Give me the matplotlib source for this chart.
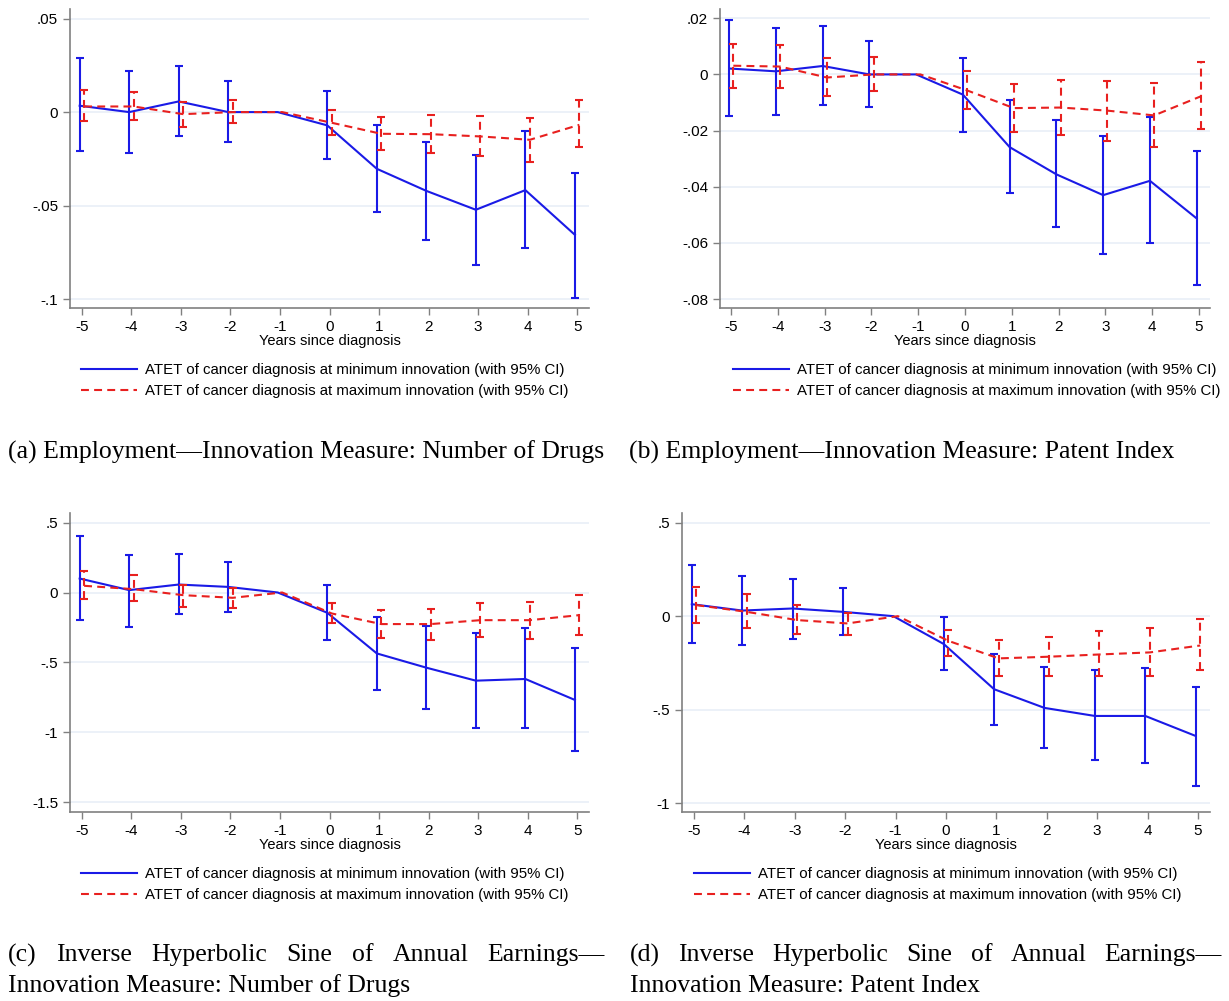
import numpy as np
import matplotlib
matplotlib.use('Agg')
import matplotlib.pyplot as plt
from matplotlib.lines import Line2D

nan = np.nan
years = [-5, -4, -3, -2, -1, 0, 1, 2, 3, 4, 5]

# (a) employment, number of drugs
a_min = [0.0034, 0.0, 0.0057, 0.0, 0.0, -0.0071, -0.0303, -0.0421, -0.0522, -0.0417, -0.0656]
a_min_hi = [0.0287, 0.0217, 0.0248, 0.0164, nan, 0.0114, -0.0070, -0.0159, -0.0228, -0.0100, -0.0328]
a_min_lo = [-0.0210, -0.0221, -0.0130, -0.0159, nan, -0.0248, -0.0533, -0.0683, -0.0816, -0.0725, -0.0991]
a_max = [0.0030, 0.0030, -0.0011, 0.0, 0.0, -0.0057, -0.0116, -0.0118, -0.0130, -0.0148, -0.0068]
a_max_hi = [0.0116, 0.0109, 0.0055, 0.0064, nan, 0.0012, -0.0027, -0.0014, -0.0020, -0.0029, 0.0064]
a_max_lo = [-0.0050, -0.0043, -0.0078, -0.0057, nan, -0.0125, -0.0203, -0.0216, -0.0232, -0.0267, -0.0189]

# (b) employment, patent index
b_min = [0.0021, 0.0011, 0.0030, 0.0, 0.0, -0.0072, -0.0259, -0.0356, -0.0430, -0.0379, -0.0513]
b_min_hi = [0.0195, 0.0165, 0.0171, 0.0118, nan, 0.0057, -0.0091, -0.0164, -0.0220, -0.0153, -0.0274]
b_min_lo = [-0.0147, -0.0145, -0.0109, -0.0116, nan, -0.0204, -0.0424, -0.0544, -0.0639, -0.0601, -0.0751]
b_max = [0.0031, 0.0028, -0.0011, 0.0, 0.0, -0.0057, -0.0120, -0.0118, -0.0129, -0.0146, -0.0078]
b_max_hi = [0.0110, 0.0103, 0.0057, 0.0061, nan, 0.0012, -0.0033, -0.0021, -0.0025, -0.0030, 0.0046]
b_max_lo = [-0.0047, -0.0047, -0.0078, -0.0059, nan, -0.0122, -0.0205, -0.0216, -0.0236, -0.0258, -0.0195]

# (c) asinh earnings, number of drugs
c_min = [0.100, 0.017, 0.057, 0.040, 0.0, -0.145, -0.436, -0.538, -0.631, -0.619, -0.769]
c_min_hi = [0.405, 0.269, 0.274, 0.219, nan, 0.055, -0.176, -0.238, -0.293, -0.257, -0.398]
c_min_lo = [-0.195, -0.248, -0.155, -0.140, nan, -0.340, -0.698, -0.831, -0.971, -0.971, -1.136]
c_max = [0.048, 0.024, -0.019, -0.038, 0.0, -0.150, -0.226, -0.226, -0.198, -0.198, -0.162]
c_max_hi = [0.152, 0.126, 0.057, 0.029, nan, -0.076, -0.126, -0.117, -0.076, -0.067, -0.017]
c_max_lo = [-0.045, -0.062, -0.105, -0.110, nan, -0.221, -0.324, -0.340, -0.321, -0.336, -0.302]

# (d) asinh earnings, patent index
d_min = [0.064, 0.030, 0.041, 0.023, 0.0, -0.149, -0.391, -0.491, -0.534, -0.534, -0.641]
d_min_hi = [0.274, 0.215, 0.199, 0.153, nan, -0.004, -0.203, -0.274, -0.286, -0.279, -0.379]
d_min_lo = [-0.141, -0.153, -0.121, -0.101, nan, -0.290, -0.580, -0.703, -0.769, -0.788, -0.907]
d_max = [0.059, 0.023, -0.021, -0.039, 0.0, -0.132, -0.226, -0.217, -0.205, -0.194, -0.157]
d_max_hi = [0.157, 0.117, 0.059, 0.018, nan, -0.073, -0.128, -0.110, -0.082, -0.062, -0.014]
d_max_lo = [-0.036, -0.062, -0.098, -0.103, nan, -0.212, -0.320, -0.322, -0.318, -0.318, -0.288]

a_yticks = [0.05, 0, -0.05, -0.1]
a_ylabels = ['.05', '0', '-.05', '-.1']
b_yticks = [0.02, 0, -0.02, -0.04, -0.06, -0.08]
b_ylabels = ['.02', '0', '-.02', '-.04', '-.06', '-.08']
c_yticks = [0.5, 0, -0.5, -1, -1.5]
c_ylabels = ['.5', '0', '-.5', '-1', '-1.5']
d_yticks = [0.5, 0, -0.5, -1]
d_ylabels = ['.5', '0', '-.5', '-1']

leg_labels = ['ATET of cancer diagnosis at minimum innovation (with 95% CI)',
              'ATET of cancer diagnosis at maximum innovation (with 95% CI)']

BLUE = '#1a1ae6'
RED = '#e8201f'
GRID = '#e9eff7'
SPINE = '#808080'
DASH = (0, (3.8, 2.5))

W, H = 1229, 1001
plt.rcParams['font.family'] = ['Liberation Sans', 'DejaVu Sans']
fig = plt.figure(figsize=(W / 100, H / 100), dpi=100)


def px_axes(l, t, r, b):
    return fig.add_axes([l / W, 1 - b / H, (r - l) / W, (b - t) / H])


def draw_panel(ax, series, yticks, ylabels, ylim, leg_x, leg_y):
    x = np.array(years, dtype=float)
    for (pts, lo, hi), off, col, dashed in zip(series, [-0.045, 0.045], [BLUE, RED], [False, True]):
        pts, lo, hi = np.array(pts), np.array(lo), np.array(hi)
        xs = x + off
        ls = DASH if dashed else '-'
        ax.plot(xs, pts, color=col, lw=1.5, ls=ls, zorder=3)
        m = ~np.isnan(lo)
        eb = ax.errorbar(xs[m], pts[m], yerr=[pts[m] - lo[m], hi[m] - pts[m]], fmt='none',
                         ecolor=col, elinewidth=1.5, capsize=2.6, capthick=1.5, zorder=3)
        if dashed:
            eb.lines[2][0].set_linestyle(DASH)

    ax.set_xlim(-5.24, 5.24)
    ax.set_ylim(*ylim)
    ax.set_xticks(years)
    ax.set_xticklabels([str(v) for v in years])
    ax.set_yticks(yticks)
    ax.set_yticklabels(ylabels)
    ax.yaxis.grid(True, color=GRID, lw=1.2)
    ax.set_axisbelow(True)
    for s in ['top', 'right']:
        ax.spines[s].set_visible(False)
    for s in ['left', 'bottom']:
        ax.spines[s].set_color(SPINE)
        ax.spines[s].set_linewidth(1.2)
    ax.tick_params(axis='both', color=SPINE, length=5, width=1, labelsize=11, pad=3.5)
    ax.set_xlabel('Years since diagnosis', fontsize=10.5, labelpad=0)

    handles = [Line2D([], [], color=BLUE, lw=1.5),
               Line2D([], [], color=RED, lw=1.5, ls=DASH)]
    ax.legend(handles, leg_labels, loc='upper left', bbox_to_anchor=(leg_x / W, 1 - leg_y / H),
              bbox_transform=fig.transFigure, frameon=False, fontsize=10.8, handlelength=3.7,
              handletextpad=0.55, borderpad=0, borderaxespad=0, labelspacing=0.45)


ax_a = px_axes(70, 9, 589, 308)
draw_panel(ax_a, [(a_min, a_min_lo, a_min_hi), (a_max, a_max_lo, a_max_hi)],
           a_yticks, a_ylabels, (-0.1047, 0.0551), 81, 363)

ax_b = px_axes(720, 9, 1210, 308)
draw_panel(ax_b, [(b_min, b_min_lo, b_min_hi), (b_max, b_max_lo, b_max_hi)],
           b_yticks, b_ylabels, (-0.0832, 0.0233), 733, 363)

ax_c = px_axes(70, 513, 589, 812)
draw_panel(ax_c, [(c_min, c_min_lo, c_min_hi), (c_max, c_max_lo, c_max_hi)],
           c_yticks, c_ylabels, (-1.571, 0.569), 81, 867)

ax_d = px_axes(682, 513, 1210, 812)
draw_panel(ax_d, [(d_min, d_min_lo, d_min_hi), (d_max, d_max_lo, d_max_hi)],
           d_yticks, d_ylabels, (-1.048, 0.552), 694, 867)

# captions
SERIF = ['Liberation Serif', 'DejaVu Serif']
CAP_SIZE = 18.5
renderer = fig.canvas.get_renderer()


def caption(text, x, y):
    fig.text(x / W, 1 - y / H, text, family=SERIF, fontsize=CAP_SIZE, ha='left', va='center')


def justified(words, x0, x1, y):
    items = [fig.text(0, 1 - y / H, w, family=SERIF, fontsize=CAP_SIZE, ha='left', va='center')
             for w in words]
    widths = [t.get_window_extent(renderer).width for t in items]
    gap = (x1 - x0 - sum(widths)) / (len(words) - 1)
    pos = x0
    for t, w in zip(items, widths):
        t.set_x(pos / W)
        pos += w + gap


caption('(a) Employment\u2014Innovation Measure: Number of Drugs', 8, 452)
caption('(b) Employment\u2014Innovation Measure: Patent Index', 629, 452)
line1 = ['(c)', 'Inverse', 'Hyperbolic', 'Sine', 'of', 'Annual', 'Earnings\u2014']
justified(line1, 8, 605, 955)
caption('Innovation Measure: Number of Drugs', 8, 986)
justified(['(d)'] + line1[1:], 630, 1222, 955)
caption('Innovation Measure: Patent Index', 630, 986)

fig.savefig('out.png', dpi=100)
